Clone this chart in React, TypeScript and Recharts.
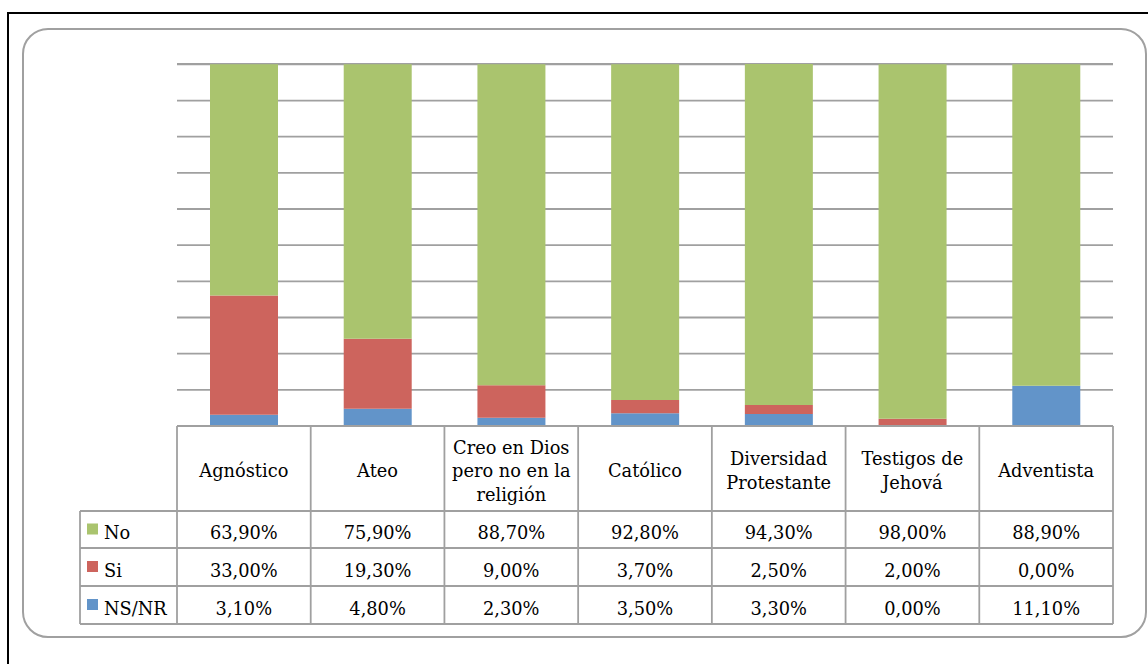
import React from "react";
import { BarChart, Bar, XAxis, YAxis, CartesianGrid } from "recharts";

const categories = [
  "Agnóstico",
  "Ateo",
  "Creo en Dios\npero no en la\nreligión",
  "Católico",
  "Diversidad\nProtestante",
  "Testigos de\nJehová",
  "Adventista",
];
const noValues = [63.9, 75.9, 88.7, 92.8, 94.3, 98.0, 88.9];
const siValues = [33.0, 19.3, 9.0, 3.7, 2.5, 2.0, 0.0];
const nsValues = [3.1, 4.8, 2.3, 3.5, 3.3, 0.0, 11.1];
const yTicks = [0, 10, 20, 30, 40, 50, 60, 70, 80, 90, 100];

const seriesInfo = [
  { key: "no", name: "No", color: "#AAC46E", values: noValues },
  { key: "si", name: "Si", color: "#CD645D", values: siValues },
  { key: "ns", name: "NS/NR", color: "#6294C9", values: nsValues },
];

const data = categories.map((c, i) => ({
  name: c,
  no: noValues[i],
  si: siValues[i],
  ns: nsValues[i],
}));

const W = 1148;
const H = 664;
const PLOT_LEFT = 177;
const PLOT_RIGHT = 1113;
const PLOT_TOP = 64;
const PLOT_BOTTOM = 426;
const HEADER_BOTTOM = 511;
const ROW_BOUNDS = [511, 548, 586, 624];
const LEGEND_LEFT = 80;
const GRID = "#A0A0A0";
const FONT = "'DejaVu Serif', serif";
const FS = 17.8;

const fmt = (v: number) => v.toFixed(2).replace(".", ",") + "%";

const EmptyTick = () => <g />;

const TableTick = (props: any) => {
  const { x, payload } = props;
  const idx: number = payload.index ?? props.index ?? 0;
  const n = categories.length;
  const band = (PLOT_RIGHT - PLOT_LEFT) / n;
  const left = x - band / 2;
  const right = x + band / 2;
  const lines = String(payload.value).split("\n");
  const hc = (PLOT_BOTTOM + HEADER_BOTTOM) / 2 + 8.5;
  const lh = 23.5;
  return (
    <g>
      <line x1={left} y1={PLOT_BOTTOM} x2={left} y2={ROW_BOUNDS[3]} stroke={GRID} strokeWidth={1.8} />
      {idx === n - 1 && (
        <line x1={right} y1={PLOT_BOTTOM} x2={right} y2={ROW_BOUNDS[3]} stroke={GRID} strokeWidth={1.8} />
      )}
      {idx === 0 && (
        <g>
          <line x1={PLOT_LEFT} y1={PLOT_BOTTOM} x2={PLOT_RIGHT} y2={PLOT_BOTTOM} stroke={GRID} strokeWidth={1.8} />
          {ROW_BOUNDS.map((yy, k) => (
            <line key={k} x1={LEGEND_LEFT} y1={yy} x2={PLOT_RIGHT} y2={yy} stroke={GRID} strokeWidth={1.8} />
          ))}
          <line x1={LEGEND_LEFT} y1={ROW_BOUNDS[0]} x2={LEGEND_LEFT} y2={ROW_BOUNDS[3]} stroke={GRID} strokeWidth={1.8} />
          {seriesInfo.map((s, r) => {
            const cy = (ROW_BOUNDS[r] + ROW_BOUNDS[r + 1]) / 2;
            return (
              <g key={s.key}>
                <rect x={87} y={cy - 6} width={11} height={11} fill={s.color} />
                <text x={104} y={cy + 9.5} fontFamily={FONT} fontSize={FS} fill="#000">
                  {s.name}
                </text>
              </g>
            );
          })}
        </g>
      )}
      {lines.map((ln, k) => (
        <text
          key={k}
          x={x}
          y={hc + (k - (lines.length - 1) / 2) * lh}
          textAnchor="middle"
          fontFamily={FONT}
          fontSize={FS}
          fill="#000"
        >
          {ln}
        </text>
      ))}
      {seriesInfo.map((s, r) => {
        const cy = (ROW_BOUNDS[r] + ROW_BOUNDS[r + 1]) / 2;
        return (
          <text
            key={s.key}
            x={x}
            y={cy + 9.5}
            textAnchor="middle"
            fontFamily={FONT}
            fontSize={FS}
            fill="#000"
          >
            {fmt(s.values[idx])}
          </text>
        );
      })}
    </g>
  );
};

export default function App() {
  return (
    <div style={{ position: "absolute", left: 0, top: 0, width: W, height: H, background: "#fff", overflow: "hidden" }}>
      <div
        style={{
          position: "absolute",
          left: 7,
          top: 11.5,
          width: W + 20,
          height: H + 20,
          border: "2px solid #000",
          boxSizing: "border-box",
        }}
      />
      <div
        style={{
          position: "absolute",
          left: 22,
          top: 28,
          width: 1125,
          height: 610,
          border: "2px solid #A0A0A0",
          borderRadius: 26,
          boxSizing: "border-box",
        }}
      />
      <div style={{ position: "absolute", left: 0, top: 0 }}>
        <BarChart
          width={W}
          height={H}
          data={data}
          margin={{ top: PLOT_TOP, right: W - PLOT_RIGHT, bottom: 0, left: PLOT_LEFT }}
        >
          <CartesianGrid vertical={false} stroke={GRID} strokeWidth={1.8} />
          <YAxis
            type="number"
            domain={[0, 100]}
            ticks={yTicks}
            width={0}
            tick={<EmptyTick />}
            axisLine={false}
            tickLine={false}
          />
          <XAxis
            dataKey="name"
            height={H - PLOT_BOTTOM}
            interval={0}
            axisLine={false}
            tickLine={false}
            tick={<TableTick />}
          />
          <Bar dataKey="ns" stackId="a" fill="#6294C9" barSize={68} isAnimationActive={false} />
          <Bar dataKey="si" stackId="a" fill="#CD645D" barSize={68} isAnimationActive={false} />
          <Bar dataKey="no" stackId="a" fill="#AAC46E" barSize={68} isAnimationActive={false} />
        </BarChart>
      </div>
    </div>
  );
}
